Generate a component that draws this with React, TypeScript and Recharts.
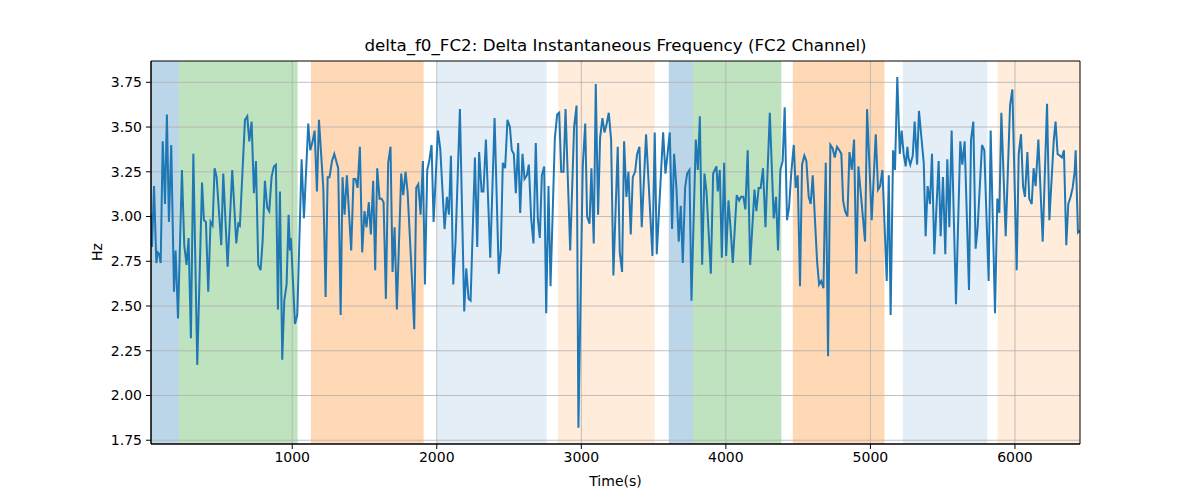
import { LineChart, Line, XAxis, YAxis, ReferenceArea, ReferenceLine } from 'recharts';

// sample times (s) and delta f0 values (Hz)
const times = [
  23, 30, 44, 60, 69, 80, 90, 104, 120, 133, 147, 163, 182, 193, 210, 237, 253, 269, 283, 299,
  316, 343, 376, 389, 403, 419, 435, 449, 463, 477, 509, 523, 553, 585, 613, 627,
  638, 673, 689, 703, 719, 735, 749, 765, 781, 795, 811, 827, 841, 857, 873, 887, 901, 915, 931, 945,
  961, 975, 984, 991, 1019, 1035, 1065, 1081, 1111, 1125, 1141, 1155, 1171, 1185, 1215, 1231, 1245, 1258, 1275, 1291,
  1318, 1335, 1348, 1362, 1378, 1408, 1424, 1438, 1452, 1468, 1484, 1500, 1514, 1530, 1544, 1560, 1574, 1588, 1604, 1618,
  1632, 1648, 1664, 1680, 1694, 1708, 1724, 1754, 1768, 1784, 1798, 1828, 1844, 1858, 1872, 1888, 1904, 1918, 1934, 1948,
  1964, 1978, 2008, 2024, 2054, 2070, 2084, 2098, 2114, 2130, 2160, 2190, 2204, 2220, 2234, 2264, 2280, 2293, 2310, 2323,
  2340, 2370, 2400, 2429, 2443, 2457, 2473, 2489, 2506, 2519, 2533, 2547, 2563, 2577, 2593, 2607,
  2623, 2637, 2653, 2669, 2685, 2699, 2713, 2727, 2743, 2757, 2773, 2787, 2817, 2833, 2847, 2861, 2877, 2891, 2923, 2950,
  2967, 2980, 3010, 3027, 3040, 3057, 3070, 3086, 3100, 3116, 3130, 3146, 3160, 3176, 3190, 3206, 3222, 3252,
  3266, 3282, 3296, 3312, 3326, 3342, 3356, 3372, 3386, 3402, 3418, 3448, 3492, 3508, 3522, 3566, 3582, 3598, 3612, 3628,
  3642, 3658, 3674, 3688, 3702, 3718, 3732, 3748, 3762, 3792, 3806, 3820, 3836, 3852, 3866, 3896, 3912,
  3935, 3944, 3958, 3972, 3988, 4002, 4018, 4032, 4048, 4075, 4092, 4105, 4121, 4135, 4151, 4168, 4198, 4211, 4227, 4241,
  4257, 4274, 4304, 4331, 4347, 4361, 4377, 4393, 4407, 4423, 4437, 4453, 4470, 4483, 4497, 4513, 4527, 4543, 4557, 4573,
  4587, 4601, 4631, 4645, 4659, 4675, 4691, 4707, 4723, 4739, 4753, 4769, 4785, 4799, 4811, 4825, 4841, 4855, 4871, 4887,
  4903, 4917, 4963, 4977, 5009, 5037, 5053, 5067, 5083, 5113, 5127, 5140, 5157, 5170, 5186, 5203, 5216, 5230,
  5244, 5256, 5263, 5276, 5293, 5306, 5323, 5336, 5353, 5369, 5382, 5396, 5412, 5426, 5442, 5472, 5486, 5502, 5518, 5532,
  5546, 5562, 5592, 5622, 5636, 5652, 5682, 5696, 5712, 5728, 5742, 5772, 5788, 5818, 5832, 5862, 5878, 5892,
  5906, 5936, 5966, 5982, 6012, 6026, 6042, 6056, 6069, 6086, 6099, 6116, 6129, 6143, 6162, 6192, 6222, 6238, 6268, 6281,
  6295, 6311, 6325, 6339, 6355, 6369, 6385, 6399, 6413, 6420, 6436, 6450,
];

const deltaF0 = [
  3.01, 2.83, 3.17, 2.74, 2.80, 2.79, 2.74, 3.42, 3.07, 3.57, 2.97, 3.40, 2.58, 2.81, 2.43, 3.26, 2.84, 2.73, 2.88, 2.32,
  3.35, 2.17, 3.19, 2.98, 2.97, 2.58, 2.97, 2.95, 3.27, 3.22, 2.84, 3.24, 2.72, 3.26, 2.85, 2.96,
  2.95, 3.54, 3.56, 3.42, 3.53, 3.13, 3.31, 2.73, 2.70, 2.86, 3.20, 3.05, 3.03, 3.22, 3.28, 3.29, 2.48, 3.14, 2.20, 2.53,
  2.62, 3.01, 2.81, 2.88, 2.40, 2.45, 3.32, 2.99, 3.52, 3.37, 3.42, 3.48, 3.14, 3.54, 3.16, 2.55, 3.22, 3.22, 3.31, 3.35,
  3.27, 2.45, 3.22, 3.01, 3.23, 2.81, 3.21, 3.21, 3.16, 3.39, 2.80, 3.03, 2.94, 3.08, 2.90, 3.20, 2.70, 3.27, 3.10, 3.10,
  3.08, 2.54, 3.30, 3.39, 2.69, 2.94, 2.48, 3.24, 3.12, 3.25, 3.14, 2.66, 2.37, 3.16, 3.18, 3.01, 3.31, 2.62, 3.26, 3.31,
  3.40, 2.97, 3.48, 3.38, 2.93, 3.11, 3.01, 3.34, 2.62, 2.86, 3.60, 2.47, 2.71, 2.54, 2.53, 3.33, 2.83, 3.36, 3.14, 3.14,
  3.43, 2.77, 3.55, 2.68, 2.81, 3.30, 3.27, 3.54, 3.50, 3.37, 3.35, 3.13, 3.41, 3.02, 3.35, 3.21,
  3.23, 3.29, 2.99, 2.85, 3.41, 2.99, 2.88, 3.23, 3.28, 2.46, 3.17, 2.61, 3.44, 3.57, 3.58, 3.25, 3.25, 3.60, 2.81, 3.50,
  3.62, 1.82, 3.28, 3.52, 3.00, 2.96, 3.27, 2.85, 3.74, 3.01, 3.44, 3.55, 3.47, 3.52, 3.58, 3.43, 2.67, 3.39,
  2.80, 2.69, 3.42, 3.11, 3.25, 2.90, 3.22, 3.25, 3.35, 3.39, 2.94, 3.46, 2.78, 3.47, 2.79, 3.47, 3.24, 3.36, 3.47, 2.93,
  3.35, 3.16, 2.86, 3.06, 2.74, 3.16, 3.24, 3.26, 2.53, 3.43, 3.26, 3.56, 2.73, 3.24, 3.14, 2.68, 3.24,
  3.28, 3.14, 3.26, 2.77, 3.30, 2.78, 3.09, 2.94, 2.74, 3.12, 3.09, 3.11, 3.11, 3.04, 3.37, 2.73, 3.15, 3.03, 3.16, 3.16,
  3.27, 2.94, 3.58, 2.99, 3.11, 2.81, 3.26, 3.31, 3.61, 2.98, 3.05, 3.25, 3.40, 3.16, 3.23, 2.61, 3.29, 3.34, 3.31, 3.11,
  3.07, 3.23, 2.75, 2.62, 2.64, 2.60, 3.30, 2.22, 3.40, 3.38, 3.33, 3.39, 3.37, 3.35, 3.09, 3.03, 3.00, 3.36, 3.26, 3.43,
  2.68, 3.28, 2.86, 3.60, 2.98, 3.46, 3.15, 3.17, 3.26, 2.64, 3.23, 2.45, 3.37, 3.26, 3.78, 3.35, 3.48, 3.35,
  3.28, 3.39, 3.33, 3.29, 3.34, 3.53, 3.29, 3.59, 3.44, 3.30, 2.89, 3.17, 3.07, 3.35, 2.79, 3.31, 2.89, 3.22, 2.79, 3.32,
  2.94, 3.48, 2.51, 3.42, 3.29, 3.42, 2.59, 3.43, 3.53, 2.82, 2.94, 3.40, 3.37, 2.64, 3.48, 2.46, 3.10, 3.02,
  3.58, 2.89, 3.62, 3.71, 2.70, 3.35, 3.46, 3.17, 3.11, 3.36, 3.10, 3.07, 3.27, 3.17, 3.43, 2.86, 3.63, 2.98, 3.42, 3.53,
  3.35, 3.34, 3.33, 3.37, 2.84, 3.07, 3.11, 3.16, 3.25, 3.37, 2.91, 2.92,
];

// shaded phases
const spanStart = [21, 216, 1129, 2003, 2838, 3605, 3773, 4463, 5224, 5880];
const spanEnd = [216, 1037, 1909, 2759, 3508, 3773, 4384, 5097, 5809, 6450];
const spanKind = ['a', 'b', 'c', 'd', 'e', 'a', 'b', 'c', 'd', 'e'];

const xTicks = [1000, 2000, 3000, 4000, 5000, 6000];
const yTicks = [1.75, 2.0, 2.25, 2.5, 2.75, 3.0, 3.25, 3.5, 3.75];

const spanStyle: Record<string, { fill: string; opacity: number }> = {
  a: { fill: '#1f77b4', opacity: 0.3 },
  b: { fill: '#2ca02c', opacity: 0.3 },
  c: { fill: '#ff7f0e', opacity: 0.3 },
  d: { fill: '#1f77b4', opacity: 0.12 },
  e: { fill: '#ff7f0e', opacity: 0.15 },
};

const data = times.map((t, i) => ({ t, hz: deltaF0[i] }));

const FONT = '"DejaVu Sans", sans-serif';
const tickStyle = { fill: '#000', fontSize: 14, fontFamily: FONT };
const Y_DOMAIN: [number, number] = [1.729, 3.869];

export default function App() {
  return (
    <div style={{ position: 'absolute', left: 0, top: 0, width: 1200, height: 500, background: '#fff' }}>
      <div
        style={{
          position: 'absolute', left: 151, width: 929, top: 35, textAlign: 'center',
          fontFamily: FONT, fontSize: 16.7, color: '#000', lineHeight: '20px',
        }}
      >
        delta_f0_FC2: Delta Instantaneous Frequency (FC2 Channel)
      </div>
      <div
        style={{
          position: 'absolute', left: 151, width: 929, top: 472, textAlign: 'center',
          fontFamily: FONT, fontSize: 14, color: '#000', lineHeight: '18px',
        }}
      >
        Time(s)
      </div>
      <div
        style={{
          position: 'absolute', left: 97, top: 252, transform: 'translate(-50%, -50%) rotate(-90deg)',
          fontFamily: FONT, fontSize: 14, color: '#000', lineHeight: '18px',
        }}
      >
        Hz
      </div>
      <LineChart width={1200} height={500} data={data} margin={{ top: 61, right: 120, bottom: 16, left: 0 }}>
        <XAxis
          dataKey="t"
          type="number"
          domain={['dataMin', 'dataMax']}
          ticks={xTicks}
          tick={tickStyle}
          tickSize={5}
          tickMargin={3}
          height={40}
          stroke="#000"
          allowDataOverflow
        />
        <YAxis
          type="number"
          domain={Y_DOMAIN}
          ticks={yTicks}
          tick={tickStyle}
          tickSize={5}
          tickMargin={4}
          width={151}
          stroke="#000"
          tickFormatter={(v: number) => v.toFixed(2)}
          allowDataOverflow
        />
        {spanStart.map((s, i) => (
          <ReferenceArea
            key={`span-${i}`}
            x1={s}
            x2={spanEnd[i]}
            fill={spanStyle[spanKind[i]].fill}
            fillOpacity={spanStyle[spanKind[i]].opacity}
            stroke="none"
            ifOverflow="hidden"
            zIndex={100}
          />
        ))}
        {xTicks.map((v) => (
          <ReferenceLine key={`gx-${v}`} x={v} stroke="#b0b0b0" strokeWidth={0.8} zIndex={200} />
        ))}
        {yTicks.map((v) => (
          <ReferenceLine key={`gy-${v}`} y={v} stroke="#b0b0b0" strokeWidth={0.8} zIndex={200} />
        ))}
        <Line
          type="linear"
          dataKey="hz"
          stroke="#1f77b4"
          strokeWidth={2}
          dot={false}
          isAnimationActive={false}
          zIndex={400}
        />
        {/* axes frame */}
        <ReferenceArea
          x1={times[0]}
          x2={times[times.length - 1]}
          y1={Y_DOMAIN[0]}
          y2={Y_DOMAIN[1]}
          fill="none"
          fillOpacity={0}
          stroke="#000"
          strokeWidth={1}
          zIndex={600}
        />
      </LineChart>
    </div>
  );
}
